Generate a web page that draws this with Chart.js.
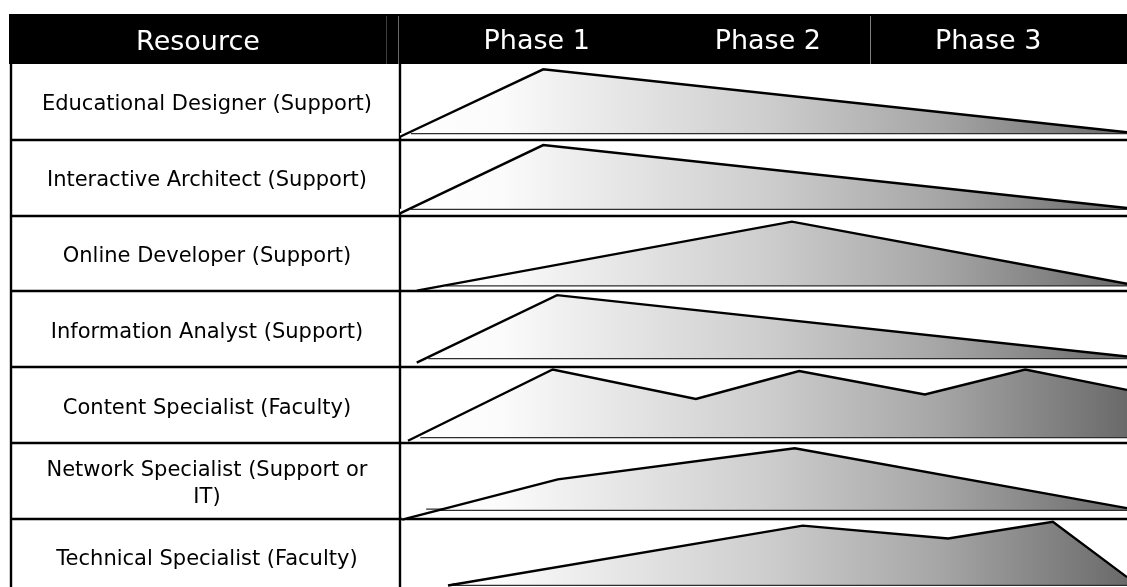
<!DOCTYPE html>
<html>
<head>
<meta charset="utf-8">
<title>Resource loading by phase</title>
<script src="https://cdn.jsdelivr.net/npm/chart.js@4.4.1/dist/chart.umd.min.js"></script>
<style>
  html, body { margin: 0; padding: 0; background: #fff; overflow: hidden; }
  canvas { display: block; }
</style>
</head>
<body>
<canvas id="c" width="1127" height="587"></canvas>
<script>
// Table rows: one resource per row
const resources = [
  'Educational Designer (Support)',
  'Interactive Architect (Support)',
  'Online Developer (Support)',
  'Information Analyst (Support)',
  'Content Specialist (Faculty)',
  ['Network Specialist (Support or', 'IT)'],
  'Technical Specialist (Faculty)'
];

// Header columns along the project timeline (0 = start, 100 = end)
const phaseLabels = ['Phase 1', 'Phase 2', 'Phase 3'];
const phaseCenters = [18.8, 50.6, 80.9];
const phaseDivider = 64.6;

// Effort profile of each resource: timeline positions and effort level (0..1 of row height)
const effortTimes = [
  [0, 19.7, 100],
  [0, 19.7, 100],
  [2.3, 53.9, 100],
  [2.3, 21.6, 100],
  [1.1, 21.0, 40.7, 54.9, 72.2, 86.0, 100],
  [0.3, 21.7, 54.3, 100],
  [6.6, 55.4, 75.4, 89.8, 100]
];
const effortLevels = [
  [0.04, 0.93, 0.10],
  [0.03, 0.93, 0.10],
  [0.01, 0.92, 0.10],
  [0.06, 0.95, 0.14],
  [0.03, 0.97, 0.58, 0.95, 0.64, 0.97, 0.70],
  [-0.01, 0.52, 0.93, 0.14],
  [0.12, 0.91, 0.74, 0.96, 0.23]
];

// Floor line under each profile
const baseStarts = [1.5, 1.5, 6.3, 3.9, 2.8, 3.6, 7.2];
const baseLevels = [0.09, 0.09, 0.08, 0.12, 0.08, 0.12, 0.13];

// Rows visible in the window (last row runs past the bottom edge)
const visibleRows = 6.9;

const FONT = "'DejaVu Sans', Verdana, sans-serif";

let shade = null;
function shadeFill(context) {
  const chart = context.chart;
  const a = chart.chartArea;
  if (!a) return '#ddd';
  if (!shade) {
    shade = chart.ctx.createLinearGradient(a.left, 0, a.right, 0);
    shade.addColorStop(0.00, '#ffffff');
    shade.addColorStop(0.14, '#fbfbfb');
    shade.addColorStop(0.22, '#f0f0f0');
    shade.addColorStop(0.50, '#cecece');
    shade.addColorStop(0.74, '#a6a6a6');
    shade.addColorStop(1.00, '#6a6a6a');
  }
  return shade;
}

const datasets = [];
resources.forEach((name, k) => {
  const floor = k + 1 - baseLevels[k];
  datasets.push({
    label: Array.isArray(name) ? name.join(' ') : name,
    data: effortTimes[k].map((t, j) => ({ x: t, y: k + 1 - effortLevels[k][j] })),
    borderColor: '#000',
    borderWidth: 2.4,
    backgroundColor: shadeFill,
    fill: { value: floor },
    pointRadius: 0,
    tension: 0,
    borderJoinStyle: 'miter'
  });
  datasets.push({
    label: 'floor ' + k,
    data: [{ x: baseStarts[k], y: floor }, { x: 100, y: floor }],
    borderColor: '#2e2e2e',
    borderWidth: 2.5,
    fill: false,
    pointRadius: 0
  });
});

// Draws the table frame: header band, row rules and column rules
const tableFrame = {
  id: 'tableFrame',
  beforeDraw(chart) {
    const { ctx, chartArea: a, scales: { x } } = chart;
    const left = 9;
    ctx.save();
    ctx.fillStyle = '#000';
    ctx.fillRect(left, x.top, chart.width - left, a.top - x.top);
    // faint separators inside the header band
    ctx.lineWidth = 1;
    ctx.strokeStyle = '#3c3c3c';
    ctx.beginPath(); ctx.moveTo(386.5, x.top + 2); ctx.lineTo(386.5, a.top); ctx.stroke();
    ctx.strokeStyle = '#6a6a6a';
    ctx.beginPath(); ctx.moveTo(398.5, x.top + 2); ctx.lineTo(398.5, a.top); ctx.stroke();
    const dx = Math.round(x.getPixelForValue(phaseDivider)) + 0.5;
    ctx.strokeStyle = '#808080';
    ctx.beginPath(); ctx.moveTo(dx, x.top + 2); ctx.lineTo(dx, a.top); ctx.stroke();
    // first column heading
    ctx.fillStyle = '#fff';
    ctx.font = '27px ' + FONT;
    ctx.textAlign = 'center';
    ctx.textBaseline = 'alphabetic';
    ctx.fillText('Resource', (left + 387) / 2, 50);
    ctx.restore();
  },
  beforeDatasetsDraw(chart) {
    const { ctx, chartArea: a, scales: { y } } = chart;
    ctx.save();
    ctx.strokeStyle = '#000';
    ctx.lineWidth = 2.4;
    ctx.beginPath();
    for (let i = 1; i < resources.length; i++) {
      const py = Math.round(y.getPixelForValue(i));
      ctx.moveTo(10, py);
      ctx.lineTo(chart.width, py);
    }
    ctx.moveTo(11, a.top);
    ctx.lineTo(11, chart.height);
    ctx.moveTo(a.left, a.top);
    ctx.lineTo(a.left, chart.height);
    ctx.stroke();
    ctx.restore();
  }
};

new Chart(document.getElementById('c'), {
  type: 'line',
  data: { datasets },
  options: {
    responsive: false,
    animation: false,
    events: [],
    layout: { padding: { top: 14, left: 10, right: 0, bottom: 0 } },
    plugins: { legend: { display: false }, tooltip: { enabled: false } },
    scales: {
      x: {
        type: 'linear',
        position: 'top',
        min: 0,
        max: 100,
        grid: { display: false, drawTicks: false },
        border: { display: false },
        afterBuildTicks: s => { s.ticks = phaseCenters.map(v => ({ value: v })); },
        afterFit: s => { s.height = 50; s.paddingLeft = 0; s.paddingRight = 0; },
        ticks: {
          autoSkip: false,
          maxRotation: 0,
          color: '#fff',
          padding: 6,
          font: { family: FONT, size: 27 },
          callback: (v, i) => phaseLabels[i]
        }
      },
      y: {
        type: 'linear',
        reverse: true,
        min: 0,
        max: visibleRows,
        grid: { display: false, drawTicks: false },
        border: { display: false },
        afterBuildTicks: s => { s.ticks = resources.map((_, i) => ({ value: i + 0.5 })); },
        afterFit: s => { s.width = 390; s.paddingTop = 0; s.paddingBottom = 0; },
        ticks: {
          autoSkip: false,
          crossAlign: 'center',
          padding: 28,
          labelOffset: 3,
          color: '#000',
          font: { family: FONT, size: 21, lineHeight: 1.3 },
          callback: (v, i) => resources[i]
        }
      }
    }
  },
  plugins: [tableFrame]
});
</script>
</body>
</html>
